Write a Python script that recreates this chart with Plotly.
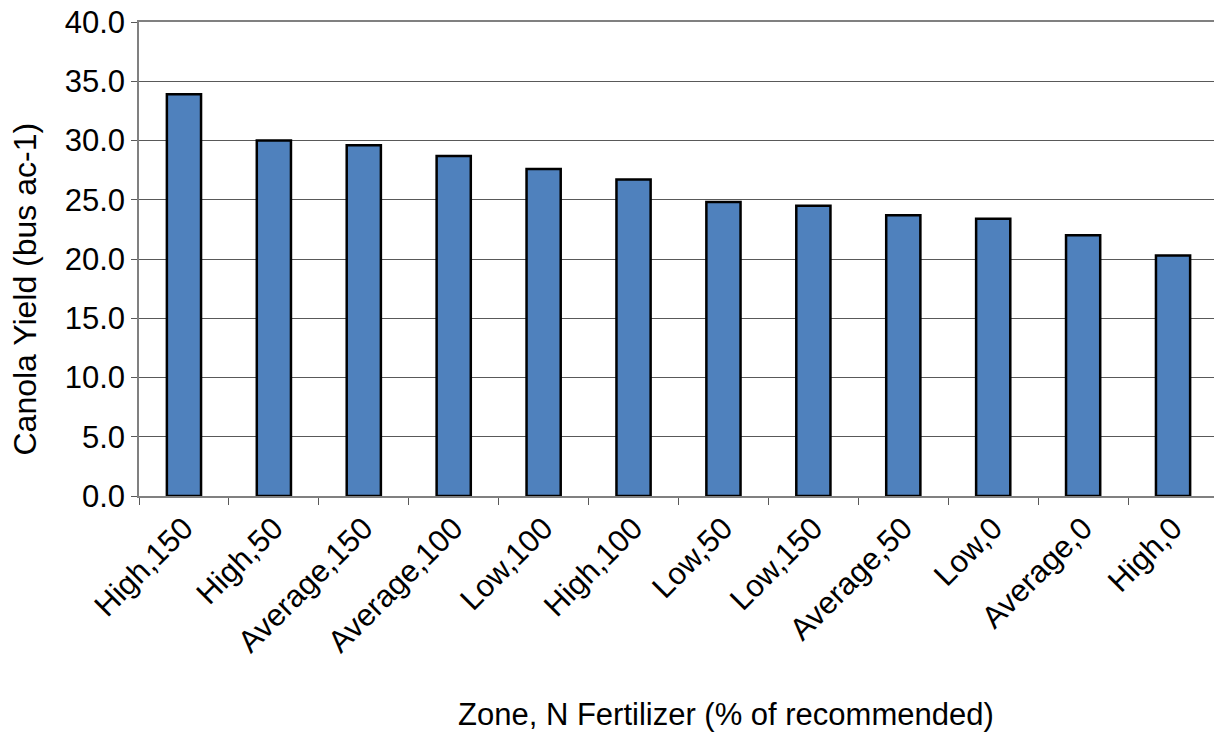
import plotly.graph_objects as go

# Zone, N fertilizer treatment (sorted by yield)
categories = ['High,150', 'High,50', 'Average,150', 'Average,100', 'Low,100', 'High,100',
              'Low,50', 'Low,150', 'Average,50', 'Low,0', 'Average,0', 'High,0']
yield_bus_ac = [33.9, 30.0, 29.6, 28.7, 27.6, 26.7, 24.8, 24.5, 23.7, 23.4, 22.0, 20.3]
y_ticks = [0, 5, 10, 15, 20, 25, 30, 35, 40]

font_family = "Liberation Sans, Arial, sans-serif"

fig = go.Figure()
fig.add_trace(go.Bar(
    x=categories,
    y=yield_bus_ac,
    marker=dict(color='#4F81BD', line=dict(color='black', width=2.5)),
    showlegend=False,
))

# page body has an 8px margin, so the figure is a bit smaller than the window
fig.update_layout(
    width=1214,
    height=725,
    margin=dict(l=131, r=4, t=14, b=237),
    plot_bgcolor='white',
    paper_bgcolor='white',
    bargap=0.62,
    font=dict(family=font_family, color='black'),
    xaxis=dict(
        type='category',
        automargin=False,
        tickangle=-45,
        tickfont=dict(size=31),
        ticks='outside',
        tickson='boundaries',
        ticklen=7,
        tickcolor='#595959',
        showline=True,
        linecolor='#808080',
        linewidth=1.5,
        mirror=True,
        showgrid=False,
    ),
    yaxis=dict(
        automargin=False,
        range=[0, 40],
        tickvals=y_ticks,
        tickformat='.1f',
        tickfont=dict(size=31),
        ticklabeloverflow='allow',
        ticks='outside',
        ticklen=6,
        tickcolor='#595959',
        showline=True,
        linecolor='#808080',
        linewidth=1.5,
        mirror=True,
        showgrid=True,
        gridcolor='#595959',
        gridwidth=1,
        zeroline=False,
    ),
    annotations=[
        dict(text='Zone, N Fertilizer (% of recommended)', xref='paper', yref='paper',
             x=0.544, y=-0.46, xanchor='center', yanchor='middle', showarrow=False,
             font=dict(size=31)),
        dict(text='Canola Yield (bus ac-1)', xref='paper', yref='paper',
             x=-0.106, y=0.437, xanchor='center', yanchor='middle', showarrow=False,
             textangle=-90, font=dict(size=32)),
    ],
)

fig.write_html("out.html")
